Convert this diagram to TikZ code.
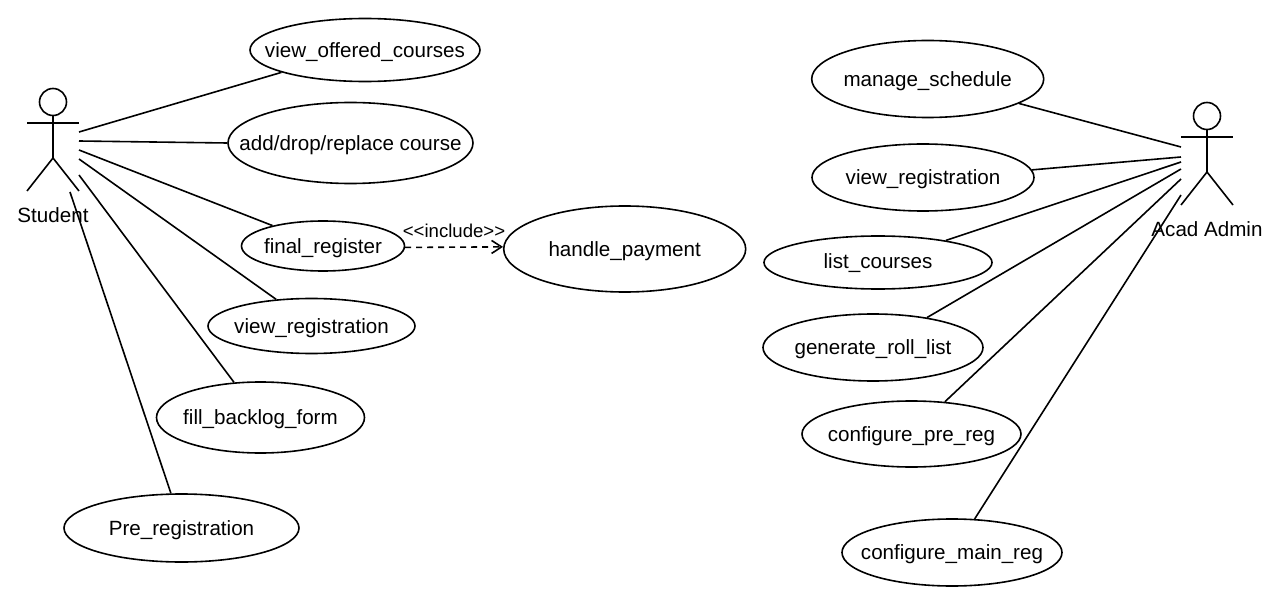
\documentclass[tikz,border=0pt]{standalone}
\usepackage{fontspec}
\setmainfont{Liberation Sans}
\usetikzlibrary{shapes.geometric,arrows.meta}
\begin{document}
\begin{tikzpicture}[x=1pt,y=-1pt,
  usecase/.style={draw,ellipse,inner sep=0pt,line width=1.6pt,font=\fontsize{20.6}{24}\selectfont},
  link/.style={line width=1.6pt},
  actorline/.style={line width=1.6pt},
  actorlabel/.style={font=\fontsize{20.6}{24}\selectfont,inner sep=0pt}]
\useasboundingbox (0,0) rectangle (1280,604);
\fill[white] (0,0) rectangle (1280,604);
\newcommand{\uc}[6]{\node[usecase,minimum width=#4pt,minimum height=#5pt] (#1) at (#2,#3) {\makebox[0pt]{\raisebox{-7.2pt}[0pt][0pt]{#6}}};}
\uc{voc}{365}{50}{230}{63}{view\_offered\_courses}
\uc{adc}{350.5}{143}{245}{81}{add/drop/replace course}
\uc{fr}{323}{246}{163}{50}{final\_register}
\uc{hp}{624.7}{249}{242}{86}{handle\_payment}
\uc{vrl}{311.5}{326}{207}{55}{view\_registration}
\uc{fbf}{260.5}{417.5}{208}{71}{fill\_backlog\_form}
\uc{pr}{181.5}{528}{235}{68}{Pre\_registration}
\uc{ms}{927.7}{79}{232}{77}{manage\_schedule}
\uc{vrr}{923}{177.5}{222}{67}{view\_registration}
\uc{lc}{878}{262.5}{228}{53}{\raisebox{1.4pt}{list\_courses}}
\uc{grl}{873}{347.5}{220}{67}{generate\_roll\_list}
\uc{cpr}{911.5}{434}{219}{66}{configure\_pre\_reg}
\uc{cmr}{952}{552.5}{220}{67}{configure\_main\_reg}
% Student actor
\node[draw,circle,inner sep=0pt,minimum size=27pt,line width=1.6pt] (shead) at (53,102) {};
\coordinate (sla) at (27,123);
\coordinate (sra) at (79,123);
\coordinate (ship) at (53,158);
\coordinate (sll) at (27,191);
\coordinate (srl) at (79,191);
\draw[actorline] (shead) -- (ship);
\draw[actorline] (sla) -- (sra);
\draw[actorline] (sll) -- (ship) -- (srl);
\node[actorlabel] (slabel) at (53,215) {Student};
% Admin actor
\node[draw,circle,inner sep=0pt,minimum size=27pt,line width=1.6pt] (ahead) at (1207,116) {};
\coordinate (ala) at (1181,137);
\coordinate (ara) at (1233,137);
\coordinate (ahip) at (1207,172);
\coordinate (all) at (1181,205);
\coordinate (arl) at (1233,205);
\draw[actorline] (ahead) -- (ahip);
\draw[actorline] (ala) -- (ara);
\draw[actorline] (all) -- (ahip) -- (arl);
\node[actorlabel] (alabel) at (1207,229) {Acad Admin};
% Student free ends
\coordinate (s1) at (79,132);
\coordinate (s2) at (79,141);
\coordinate (s3) at (79,150);
\coordinate (s4) at (79,159);
\coordinate (s5) at (79,175);
\coordinate (s6) at (70,192);
\draw[link] (s1) -- (voc.195.5);
\draw[link] (s2) -- (adc.180);
\draw[link] (s3) -- (fr.158.6);
\draw[link] (s4) -- (vrl.143.8);
\draw[link] (s5) -- (fbf.127.2);
\draw[link] (s6) -- (pr.107.6);
% Admin free ends
\coordinate (a1) at (1181,147);
\coordinate (a2) at (1181,157);
\coordinate (a3) at (1181,162);
\coordinate (a4) at (1181,169);
\coordinate (a5) at (1181,179);
\coordinate (a6) at (1181,195);
\draw[link] (a1) -- (ms.-15);
\draw[link] (a2) -- (vrr.4.5);
\draw[link] (a3) -- (lc.18.3);
\draw[link] (a4) -- (grl.29.5);
\draw[link] (a5) -- (cpr.44);
\draw[link] (a6) -- (cmr.56.7);
% include
\draw[link,dash pattern=on 6pt off 5pt,-{Straight Barb[length=10pt,width=13pt,line width=1.6pt]}] (fr.-1.2) -- (hp.179.4);
\node[font=\fontsize{18.6}{22}\selectfont,inner sep=0pt] (inc) at (454,231) {<{}<include>{}>};
\end{tikzpicture}
\end{document}
